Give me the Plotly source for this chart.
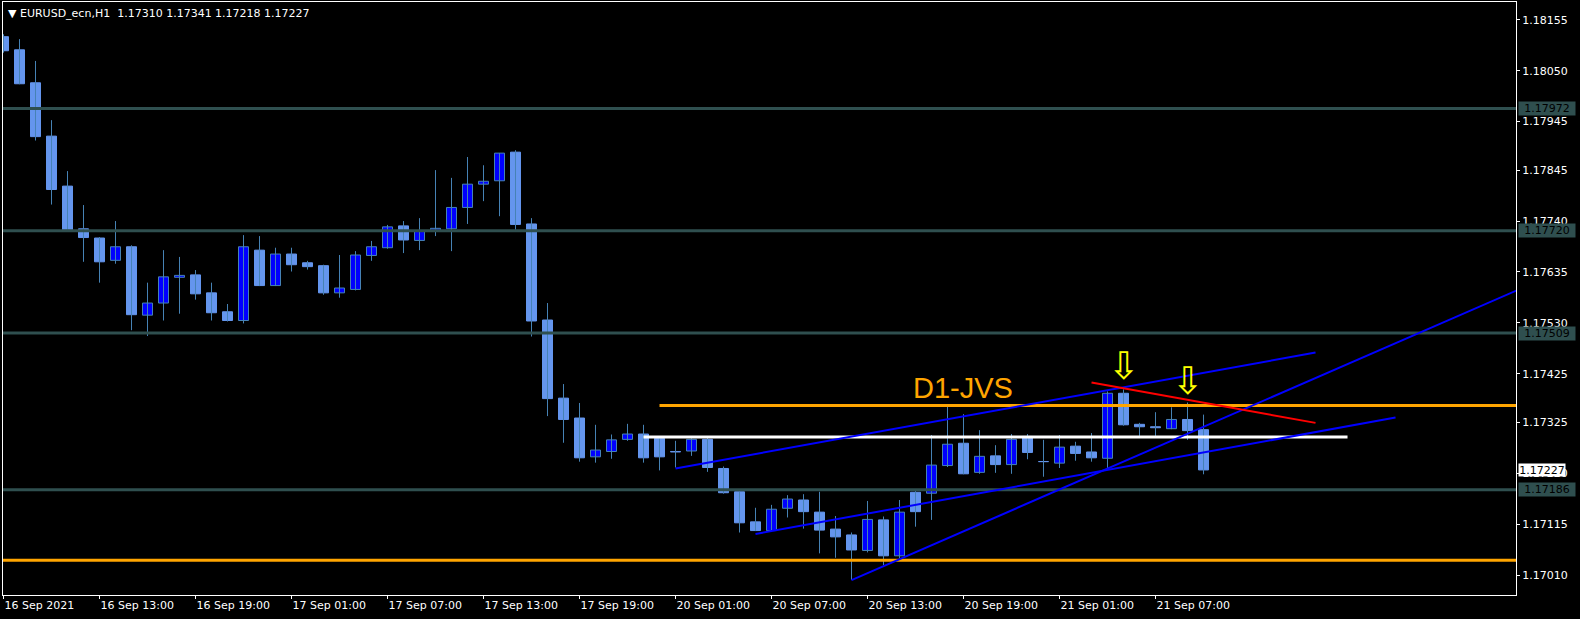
import plotly.graph_objects as go

# ---- Data (EURUSD_ecn H1), bar index 0 = 16 Sep 2021 07:00 ----
opens = [1.18120, 1.18093, 1.18025, 1.17915, 1.17812, 1.17724, 1.17705, 1.17659, 1.17687, 1.17546,
         1.17571, 1.17624, 1.17629, 1.17592, 1.17553, 1.17535, 1.17680, 1.17607, 1.17672, 1.17654,
         1.17648, 1.17592, 1.17599, 1.17669, 1.17685, 1.17730, 1.17700, 1.17721, 1.17724, 1.17768,
         1.17816, 1.17823, 1.17882, 1.17734, 1.17536, 1.17375, 1.17334, 1.17254, 1.17265, 1.17290,
         1.17301, 1.17292, 1.17265, 1.17266, 1.17290, 1.17230, 1.17182, 1.17120, 1.17102, 1.17148,
         1.17165, 1.17140, 1.17105, 1.17093, 1.17061, 1.17124, 1.17050, 1.17181, 1.17179, 1.17236,
         1.17282, 1.17222, 1.17256, 1.17238, 1.17296, 1.17244, 1.17241, 1.17276, 1.17264, 1.17251,
         1.17385, 1.17321, 1.17316, 1.17312, 1.17331, 1.17310]
highs = [1.18125, 1.18115, 1.18070, 1.17948, 1.17843, 1.17773, 1.17707, 1.17740, 1.17690, 1.17613,
         1.17680, 1.17666, 1.17639, 1.17613, 1.17569, 1.17711, 1.17709, 1.17685, 1.17685, 1.17658,
         1.17650, 1.17670, 1.17678, 1.17699, 1.17732, 1.17740, 1.17746, 1.17845, 1.17829, 1.17872,
         1.17855, 1.17880, 1.17886, 1.17746, 1.17571, 1.17404, 1.17365, 1.17320, 1.17300, 1.17322,
         1.17320, 1.17295, 1.17287, 1.17292, 1.17293, 1.17234, 1.17182, 1.17149, 1.17155, 1.17175,
         1.17177, 1.17182, 1.17132, 1.17098, 1.17163, 1.17131, 1.17165, 1.17184, 1.17299, 1.17357,
         1.17342, 1.17309, 1.17278, 1.17301, 1.17301, 1.17289, 1.17299, 1.17285, 1.17303, 1.17389,
         1.17393, 1.17324, 1.17346, 1.17356, 1.17366, 1.17341]
lows = [1.18087, 1.18022, 1.17906, 1.17774, 1.17720, 1.17656, 1.17613, 1.17652, 1.17515, 1.17503,
        1.17535, 1.17549, 1.17578, 1.17535, 1.17533, 1.17529, 1.17606, 1.17606, 1.17636, 1.17640,
        1.17588, 1.17582, 1.17597, 1.17658, 1.17683, 1.17674, 1.17680, 1.17709, 1.17678, 1.17734,
        1.17781, 1.17750, 1.17722, 1.17502, 1.17338, 1.17283, 1.17244, 1.17242, 1.17250, 1.17287,
        1.17242, 1.17226, 1.17232, 1.17256, 1.17223, 1.17178, 1.17098, 1.17101, 1.17099, 1.17129,
        1.17106, 1.17055, 1.17046, 1.17000, 1.17057, 1.17031, 1.17045, 1.17110, 1.17124, 1.17233,
        1.17218, 1.17219, 1.17221, 1.17219, 1.17249, 1.17213, 1.17231, 1.17246, 1.17244, 1.17231,
        1.17318, 1.17297, 1.17297, 1.17311, 1.17289, 1.17218]
closes = [1.18091, 1.18023, 1.17914, 1.17805, 1.17722, 1.17706, 1.17656, 1.17687, 1.17547, 1.17571,
          1.17625, 1.17628, 1.17590, 1.17551, 1.17535, 1.17687, 1.17607, 1.17672, 1.17650, 1.17646,
          1.17592, 1.17602, 1.17670, 1.17687, 1.17728, 1.17701, 1.17720, 1.17725, 1.17768, 1.17816,
          1.17822, 1.17880, 1.17733, 1.17534, 1.17374, 1.17331, 1.17252, 1.17268, 1.17289, 1.17301,
          1.17252, 1.17254, 1.17264, 1.17290, 1.17232, 1.17180, 1.17118, 1.17102, 1.17146, 1.17167,
          1.17141, 1.17103, 1.17089, 1.17062, 1.17125, 1.17050, 1.17140, 1.17141, 1.17237, 1.17280,
          1.17219, 1.17255, 1.17238, 1.17290, 1.17263, 1.17244, 1.17274, 1.17261, 1.17252, 1.17385,
          1.17320, 1.17316, 1.17314, 1.17331, 1.17308, 1.17227]

x_tick_bars = [0, 6, 12, 18, 24, 30, 36, 42, 48, 54, 60, 66, 72]
x_tick_labels = ["16 Sep 2021", "16 Sep 13:00", "16 Sep 19:00", "17 Sep 01:00", "17 Sep 07:00",
                 "17 Sep 13:00", "17 Sep 19:00", "20 Sep 01:00", "20 Sep 07:00", "20 Sep 13:00",
                 "20 Sep 19:00", "21 Sep 01:00", "21 Sep 07:00"]
y_ticks = [1.18155, 1.18050, 1.17945, 1.17845, 1.17740, 1.17635, 1.17530, 1.17425, 1.17325,
           1.17220, 1.17115, 1.17010]

level_prices = [1.17972, 1.17720, 1.17509, 1.17186]
orange_low = 1.17041
orange_high = 1.17360
orange_high_start = 41
white_level = 1.17295
white_span = [40, 84]
# trendlines: (bar1, price1, bar2, price2)
blue_lines = [(42, 1.17230, 82, 1.17469),
              (47, 1.17095, 87, 1.17335),
              (53, 1.17000, 95, 1.17603)]
red_line = (68, 1.17407, 82, 1.17324)
arrow_bars = [70, 74]
arrow_prices = [1.17412, 1.17381]
label_text = "D1-JVS"
label_pos = (56.8, 1.17396)
symbol_header = "EURUSD_ecn,H1"
current_price = 1.17227

X_MIN, X_MAX = -0.031, 94.53
Y_MIN, Y_MAX = 1.169692, 1.181915

fig = go.Figure()

# wicks
n = len(opens)
wx, wy = [], []
for i in range(n):
    wx += [i, i, None]
    wy += [lows[i], highs[i], None]
fig.add_trace(go.Scatter(x=wx, y=wy, mode="lines", line=dict(color="#4682B4", width=1),
                         hoverinfo="skip"))

# bodies
MIN_H = 0.000004
for bull in (True, False):
    xs, base, h = [], [], []
    for i in range(n):
        is_bull = closes[i] > opens[i]
        if is_bull != bull:
            continue
        xs.append(i)
        base.append(min(opens[i], closes[i]))
        h.append(max(abs(closes[i] - opens[i]), MIN_H))
    fig.add_trace(go.Bar(
        x=xs, y=h, base=base, width=0.625,
        marker=dict(color="#0000FF" if bull else "#6495ED",
                    line=dict(color="#4682B4" if bull else "#6495ED", width=1)),
        hoverinfo="skip"))

# horizontal level lines (dark slate gray)
for p in level_prices:
    fig.add_trace(go.Scatter(x=[X_MIN, X_MAX], y=[p, p], mode="lines",
                             line=dict(color="#2F4F4F", width=3), hoverinfo="skip"))
# orange lines
fig.add_trace(go.Scatter(x=[X_MIN, X_MAX], y=[orange_low, orange_low], mode="lines",
                         line=dict(color="#FFA500", width=3), hoverinfo="skip"))
fig.add_trace(go.Scatter(x=[orange_high_start, X_MAX], y=[orange_high, orange_high], mode="lines",
                         line=dict(color="#FFA500", width=3), hoverinfo="skip"))
# white line
fig.add_trace(go.Scatter(x=white_span, y=[white_level, white_level], mode="lines",
                         line=dict(color="#FFFFFF", width=3), hoverinfo="skip"))
# blue trendlines
for (a, pa, b, pb) in blue_lines:
    fig.add_trace(go.Scatter(x=[a, b], y=[pa, pb], mode="lines",
                             line=dict(color="#0000FF", width=2), hoverinfo="skip"))
# red trendline
fig.add_trace(go.Scatter(x=[red_line[0], red_line[2]], y=[red_line[1], red_line[3]], mode="lines",
                         line=dict(color="#FF0000", width=2), hoverinfo="skip"))

annotations = []
# arrows
for xb, pr in zip(arrow_bars, arrow_prices):
    annotations.append(dict(x=xb, y=pr, xref="x", yref="y", text="\u21E9", showarrow=False,
                            xanchor="center", yanchor="bottom", yshift=-9,
                            font=dict(family="DejaVu Sans", size=38, color="#FFFF00"),
                            borderpad=0))
# D1-JVS label
annotations.append(dict(x=label_pos[0], y=label_pos[1], xref="x", yref="y", text=label_text,
                        showarrow=False, xanchor="left", yanchor="middle",
                        font=dict(family="Liberation Sans", size=29, color="#FFA500"), borderpad=0))
# header
annotations.append(dict(x=0, y=1, xref="paper", yref="paper", xanchor="left", yanchor="top",
                        xshift=3, yshift=-3, showarrow=False,
                        text="\u25BC\u00a0" + symbol_header + "\u00a0\u00a0" +
                             " ".join(f"{v:.5f}" for v in [opens[-1], highs[-1], lows[-1], closes[-1]]),
                        font=dict(family="DejaVu Sans", size=11, color="#FFFFFF")))
# level labels on price axis
for p in level_prices:
    annotations.append(dict(x=1, y=p, xref="paper", yref="y", xanchor="left", yanchor="middle",
                            xshift=2, showarrow=False, text=f"{p:.5f}", width=56, height=13,
                            bgcolor="#2F4F4F", borderpad=0, align="center",
                            font=dict(family="DejaVu Sans", size=11, color="#000000")))
# current price label
annotations.append(dict(x=1, y=current_price, xref="paper", yref="y", xanchor="left",
                        yanchor="middle", xshift=2, showarrow=False, text=f"{current_price:.5f}",
                        width=46, height=12, bgcolor="#FFFFFF", borderpad=0, align="center",
                        font=dict(family="DejaVu Sans", size=11, color="#000000")))

fig.update_layout(
    width=1580, height=619,
    margin=dict(l=3, r=64, t=2, b=24),
    paper_bgcolor="#000000", plot_bgcolor="#000000",
    showlegend=False, barmode="overlay", hovermode=False,
    annotations=annotations,
    font=dict(family="DejaVu Sans", size=11, color="#FFFFFF"),
    xaxis=dict(range=[X_MIN, X_MAX], tickvals=x_tick_bars, ticktext=x_tick_labels,
               ticks="outside", ticklen=3, tickcolor="#FFFFFF", ticklabelposition="outside right",
               showgrid=False, zeroline=False, showline=True, linecolor="#FFFFFF", linewidth=1,
               mirror=True, tickfont=dict(family="DejaVu Sans", size=11, color="#FFFFFF")),
    yaxis=dict(range=[Y_MIN, Y_MAX], side="right", tickvals=y_ticks,
               ticktext=[f"{v:.5f}" for v in y_ticks],
               ticks="outside", ticklen=3, tickcolor="#FFFFFF",
               showgrid=False, zeroline=False, showline=True, linecolor="#FFFFFF", linewidth=1,
               mirror=True, tickfont=dict(family="DejaVu Sans", size=11, color="#FFFFFF")),
)

fig.write_html("out.html", config={"displayModeBar": False},
               post_script="document.body.style.margin='0';document.body.style.background='#000';")
